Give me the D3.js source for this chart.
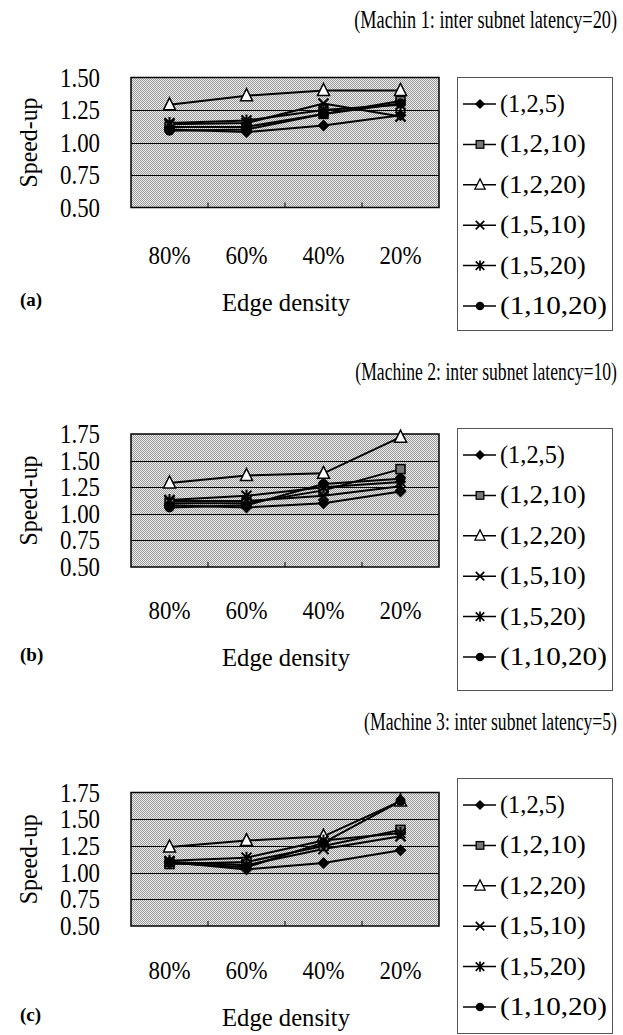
<!DOCTYPE html>
<html>
<head>
<meta charset="utf-8">
<script src="https://cdn.jsdelivr.net/npm/d3@7"></script>
<style>
body { margin: 0; background: #fff; }
text { font-family: "Liberation Serif", "DejaVu Serif", serif; fill: #000; }
</style>
</head>
<body>
<script>
// categories and series names
var densities = ['80%', '60%', '40%', '20%'];
var settings = ['(1,2,5)', '(1,2,10)', '(1,2,20)', '(1,5,10)', '(1,5,20)', '(1,10,20)'];

// speed-up values, one array per setting, for each machine
var m1 = [
  [1.10, 1.08, 1.13, 1.21],
  [1.12, 1.12, 1.22, 1.32],
  [1.29, 1.36, 1.40, 1.40],
  [1.14, 1.15, 1.30, 1.20],
  [1.15, 1.17, 1.25, 1.29],
  [1.09, 1.10, 1.22, 1.30]
];
var m2 = [
  [1.08, 1.06, 1.10, 1.21],
  [1.10, 1.10, 1.22, 1.42],
  [1.29, 1.36, 1.38, 1.72],
  [1.12, 1.12, 1.17, 1.26],
  [1.13, 1.17, 1.25, 1.30],
  [1.06, 1.08, 1.28, 1.33]
];
var m3 = [
  [1.10, 1.03, 1.09, 1.21],
  [1.08, 1.10, 1.25, 1.40],
  [1.24, 1.30, 1.34, 1.67],
  [1.10, 1.07, 1.22, 1.34],
  [1.11, 1.14, 1.30, 1.37],
  [1.09, 1.05, 1.28, 1.67]
];

var ticks1 = [0.50, 0.75, 1.00, 1.25, 1.50];
var ticks2 = [0.50, 0.75, 1.00, 1.25, 1.50, 1.75];

var titles = ['(Machin 1: inter subnet latency=20)', '(Machine 2: inter subnet latency=10)', '(Machine 3: inter subnet latency=5)'];
var tags = ['(a)', '(b)', '(c)'];

var W = 623, H = 1035;
var svg = d3.select('body').append('svg').attr('width', W).attr('height', H);

// halftone background like the scanned plot area
var defs = svg.append('defs');
var pat = defs.append('pattern').attr('id', 'dots').attr('patternUnits', 'userSpaceOnUse')
  .attr('width', 2).attr('height', 2);
pat.append('rect').attr('width', 2).attr('height', 2).attr('fill', '#ececec');
pat.append('rect').attr('width', 1).attr('height', 1).attr('fill', '#9a9a9a');
pat.append('rect').attr('x', 1).attr('y', 1).attr('width', 1).attr('height', 1).attr('fill', '#9a9a9a');

// text squeezed horizontally to the width the scan shows (the original font is condensed)
function label(parent, x, y, str, size, width, anchor, rot) {
  var g = parent.append('g');
  var t = g.append('text').attr('font-size', size).attr('text-anchor', anchor || 'start').text(str);
  var s = width / t.node().getComputedTextLength();
  g.attr('transform', 'translate(' + x + ',' + y + ')' + (rot ? ' rotate(' + rot + ')' : '') + ' scale(' + s.toFixed(3) + ',1)');
  return g;
}

function marker(g, i, x, y, k) {
  k = k || 1;
  var m = g.append('g').attr('transform', 'translate(' + x + ',' + y + ') scale(' + k + ')');
  if (i == 0) {
    m.append('path').attr('d', 'M0,-6L6,0L0,6L-6,0Z').attr('fill', '#000');
  } else if (i == 1) {
    m.append('rect').attr('x', -4.5).attr('y', -4.5).attr('width', 9).attr('height', 9)
      .attr('fill', '#777').attr('stroke', '#000').attr('stroke-width', 1.5);
  } else if (i == 2) {
    m.append('path').attr('d', 'M0,-7L6,5L-6,5Z').attr('fill', '#fff').attr('stroke', '#000').attr('stroke-width', 1.5);
  } else if (i == 3) {
    m.append('path').attr('d', 'M-5,-5L5,5M-5,5L5,-5').attr('stroke', '#000').attr('stroke-width', 2);
  } else if (i == 4) {
    m.append('path').attr('d', 'M-5,-5L5,5M-5,5L5,-5M0,-6L0,6').attr('stroke', '#000').attr('stroke-width', 2);
  } else {
    m.append('circle').attr('r', 5).attr('fill', '#000');
  }
}

function panel(cfg) {
  var x = d3.scaleBand().domain(densities).range([131, 439]);
  var y = d3.scaleLinear().domain([0.5, cfg.ticks[cfg.ticks.length - 1]]).range([cfg.bottom, cfg.top]);

  label(svg, 617, cfg.titleY, cfg.title, 25, cfg.titleW, 'end');

  svg.append('rect').attr('x', 131).attr('y', cfg.top).attr('width', 308).attr('height', cfg.bottom - cfg.top)
    .attr('fill', 'url(#dots)');

  // gridlines
  svg.append('g').selectAll('line').data(cfg.ticks.slice(1, -1)).enter().append('line')
    .attr('x1', 131).attr('x2', 439)
    .attr('y1', function(d) { return Math.round(y(d)) + 0.5; })
    .attr('y2', function(d) { return Math.round(y(d)) + 0.5; })
    .attr('stroke', '#000').attr('stroke-width', 1);

  svg.append('rect').attr('x', 131).attr('y', cfg.top).attr('width', 308).attr('height', cfg.bottom - cfg.top)
    .attr('fill', 'none').attr('stroke', '#000').attr('stroke-width', 1.5);

  // small inner ticks between categories
  svg.append('g').selectAll('line').data(densities.slice(1)).enter().append('line')
    .attr('x1', function(d) { return x(d); }).attr('x2', function(d) { return x(d); })
    .attr('y1', cfg.bottom).attr('y2', cfg.bottom - 5)
    .attr('stroke', '#000').attr('stroke-width', 1);

  // y tick labels
  cfg.ticks.forEach(function(d) {
    label(svg, 100, y(d) + 9, d.toFixed(2), 27, 40, 'end');
  });

  // x labels
  densities.forEach(function(d) {
    label(svg, x(d) + x.bandwidth() / 2, cfg.xlabY, d, 26, 42, 'middle');
  });

  label(svg, 286, cfg.xlabY + 47, 'Edge density', 26, 128, 'middle');

  svg.append('text').attr('x', 20).attr('y', cfg.xlabY + 42)
    .attr('font-size', 19).attr('font-weight', 'bold').text(cfg.tag);

  var cy = (cfg.top + cfg.bottom) / 2;
  label(svg, 37, cy, 'Speed-up', 26, 90, 'middle', -90);

  // series lines and markers
  var line = d3.line()
    .x(function(d, j) { return x(densities[j]) + x.bandwidth() / 2; })
    .y(function(d) { return y(d); });
  var g = svg.append('g');
  cfg.data.forEach(function(s, i) {
    g.append('path').attr('d', line(s)).attr('fill', 'none').attr('stroke', '#000').attr('stroke-width', 2);
  });
  cfg.data.forEach(function(s, i) {
    s.forEach(function(v, j) {
      marker(g, i, x(densities[j]) + x.bandwidth() / 2, y(v));
    });
  });

  // legend
  svg.append('rect').attr('x', 457.5).attr('y', cfg.legTop + 0.5).attr('width', 155).attr('height', cfg.legBottom - cfg.legTop)
    .attr('fill', '#fff').attr('stroke', '#555').attr('stroke-width', 1);
  var lg = svg.append('g');
  settings.forEach(function(name, i) {
    var ly = cfg.legTop + 27 + i * 40.4;
    lg.append('line').attr('x1', 463).attr('x2', 496).attr('y1', ly).attr('y2', ly)
      .attr('stroke', '#000').attr('stroke-width', 1.5);
    marker(lg, i, 480, ly, 0.85);
    var w = name.length > 7 ? (name.length > 8 ? 107 : 86) : 65;
    label(lg, 500, ly + 8, name, 25, w, 'start');
  });
}

panel({ data: m1, ticks: ticks1, top: 77.5, bottom: 207.5, title: titles[0], titleW: 263, titleY: 28,
  xlabY: 264, tag: tags[0], legTop: 77, legBottom: 330 });
panel({ data: m2, ticks: ticks2, top: 434, bottom: 567, title: titles[1], titleW: 262, titleY: 380,
  xlabY: 619, tag: tags[1], legTop: 428, legBottom: 690 });
panel({ data: m3, ticks: ticks2, top: 792.5, bottom: 926, title: titles[2], titleW: 253, titleY: 730,
  xlabY: 979, tag: tags[2], legTop: 778, legBottom: 1033 });
</script>
</body>
</html>
